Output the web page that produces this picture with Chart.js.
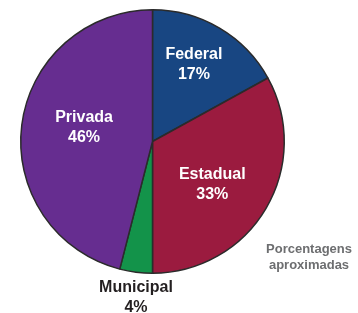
<!DOCTYPE html>
<html><head><meta charset="utf-8">
<script src="https://cdn.jsdelivr.net/npm/chart.js@4/dist/chart.umd.min.js"></script>
<style>html,body{margin:0;padding:0;background:#fff}#wrap{width:358px;height:313px;position:relative}</style>
</head><body><div id="wrap"><canvas id="c" width="358" height="313"></canvas></div>
<script>
const categories = ["Federal", "Estadual", "Municipal", "Privada"];
const values = [17, 33, 4, 46];
const valueLabels = ["17%", "33%", "4%", "46%"];
const colors = ["#184682", "#9b1b3f", "#13934a", "#662d90"];
const note = ["Porcentagens", "aproximadas"];

const labelPlugin = {
  id: 'sliceLabels',
  afterDatasetsDraw(chart) {
    const ctx = chart.ctx;
    const meta = chart.getDatasetMeta(0);
    const radFrac = [0.665, 0.56, null, 0.53];
    const angOff = [-2.4, 5.3, 0, 4.3];
    ctx.save();
    ctx.font = 'bold 16px "Liberation Sans", Arial, sans-serif';
    ctx.textAlign = 'center';
    ctx.textBaseline = 'middle';
    meta.data.forEach((arc, i) => {
      const p = arc.getProps(['x','y','startAngle','endAngle','outerRadius'], true);
      const mid = (p.startAngle + p.endAngle) / 2 + angOff[i] * Math.PI / 180;
      let x, y;
      if (radFrac[i] === null) {
        x = p.x + Math.cos(mid) * p.outerRadius;
        y = p.y + p.outerRadius + 14;
        ctx.fillStyle = '#231f20';
      } else {
        const r = p.outerRadius * radFrac[i];
        x = p.x + Math.cos(mid) * r;
        y = p.y + Math.sin(mid) * r - 10;
        ctx.fillStyle = '#ffffff';
      }
      ctx.fillText(categories[i], x, y);
      ctx.fillText(valueLabels[i], x, y + 20);
    });
    const ca = chart.chartArea;
    ctx.font = 'bold 13px "Liberation Sans", Arial, sans-serif';
    ctx.fillStyle = '#6d6e70';
    ctx.fillText(note[0], ca.right + 24, 249);
    ctx.fillText(note[1], ca.right + 24, 265);
    ctx.restore();
  }
};

new Chart(document.getElementById('c'), {
  type: 'pie',
  data: {
    labels: categories,
    datasets: [{
      data: values,
      backgroundColor: colors,
      borderColor: '#2b2b2b',
      borderWidth: 1.5
    }]
  },
  options: {
    responsive: false,
    animation: false,
    layout: { padding: { left: 20, right: 73, top: 9, bottom: 39 } },
    plugins: { legend: { display: false }, tooltip: { enabled: false } }
  },
  plugins: [labelPlugin]
});
</script>
</body></html>
